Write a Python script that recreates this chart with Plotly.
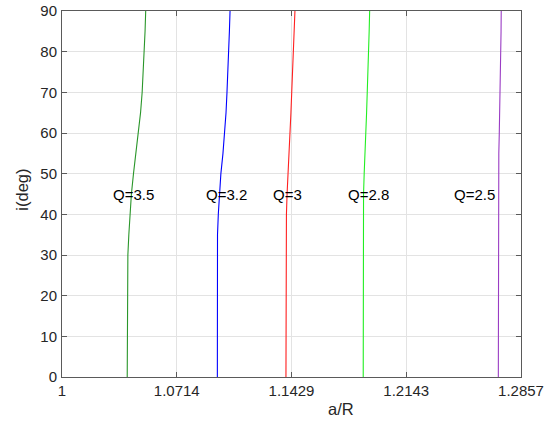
import plotly.graph_objects as go

# ---- data ----
incl_deg = [0, 10, 20, 25, 30, 35, 40, 45, 50, 55, 60, 65, 70, 75, 80, 85, 90]

aR_Q35 = [1.0406, 1.0406, 1.0406, 1.0407, 1.0410, 1.0416, 1.0423, 1.0432, 1.0445,
          1.0461, 1.0476, 1.0489, 1.0499, 1.0506, 1.0512, 1.0517, 1.0521]
aR_Q32 = [1.0967, 1.0967, 1.0967, 1.0967, 1.0967, 1.0968, 1.0973, 1.0980, 1.0989,
          1.1002, 1.1013, 1.1021, 1.1027, 1.1033, 1.1038, 1.1042, 1.1046]
aR_Q30 = [1.1394, 1.1394, 1.1394, 1.1394, 1.1394, 1.1395, 1.1397, 1.1401, 1.1408,
          1.1414, 1.1419, 1.1425, 1.1430, 1.1435, 1.1440, 1.1445, 1.1450]
aR_Q28 = [1.1875, 1.1875, 1.1875, 1.1875, 1.1875, 1.1875, 1.1875, 1.1877, 1.1881,
          1.1887, 1.1892, 1.1896, 1.1900, 1.1905, 1.1909, 1.1912, 1.1915]
aR_Q25 = [1.2716, 1.2716, 1.2716, 1.2716, 1.2716, 1.2716, 1.2716, 1.2716, 1.2716,
          1.2719, 1.2722, 1.2725, 1.2727, 1.2729, 1.2731, 1.2733, 1.2734]

series_names = ["Q=3.5", "Q=3.2", "Q=3", "Q=2.8", "Q=2.5"]
series_values = [aR_Q35, aR_Q32, aR_Q30, aR_Q28, aR_Q25]

x_tick_vals = [1.0, 1 + 1/14, 1 + 2/14, 1 + 3/14, 1 + 4/14]
x_tick_text = ["1", "1.0714", "1.1429", "1.2143", "1.2857"]
y_tick_vals = [0, 10, 20, 30, 40, 50, 60, 70, 80, 90]

# ---- styling / placement ----
colors = ["#2a962a", "#0000ff", "#ff2020", "#22ee22", "#9a3cc4"]
label_x = [1.0306, 1.0886, 1.1302, 1.1768, 1.2428]
label_y = 45

AXIS_COLOR = "#5a5a5a"
TEXT_COLOR = "#262626"
GRID_COLOR = "#e3e3e3"
FONT = "Arial, Liberation Sans, sans-serif"

fig = go.Figure()
for name, vals, col in zip(series_names, series_values, colors):
    fig.add_trace(go.Scatter(x=vals, y=incl_deg, mode="lines", name=name,
                             line=dict(color=col, width=1.1), showlegend=False))

for name, lx in zip(series_names, label_x):
    fig.add_annotation(x=lx, y=label_y, xref="x", yref="y", text=name,
                       showarrow=False, xanchor="left", yanchor="middle",
                       font=dict(family=FONT, size=15, color="#000000"))

fig.add_annotation(x=0.607, y=-0.088, xref="paper", yref="paper", text="a/R",
                   showarrow=False, xanchor="center", yanchor="middle",
                   font=dict(family=FONT, size=16.5, color=TEXT_COLOR))
fig.add_annotation(x=-0.087, y=0.512, xref="paper", yref="paper", text="i(deg)",
                   showarrow=False, xanchor="center", yanchor="middle", textangle=-90,
                   font=dict(family=FONT, size=16.5, color=TEXT_COLOR))

axis_common = dict(showline=True, linecolor=AXIS_COLOR, linewidth=1, mirror="ticks",
                   ticks="inside", ticklen=5, tickcolor=AXIS_COLOR, tickwidth=1,
                   showgrid=True, gridcolor=GRID_COLOR, gridwidth=1, zeroline=False,
                   automargin=False, ticklabeloverflow="allow",
                   tickfont=dict(family=FONT, size=15, color=TEXT_COLOR))

fig.update_xaxes(range=[1.0, 1 + 4/14], tickmode="array", tickvals=x_tick_vals,
                 ticktext=x_tick_text, ticklabelstandoff=0, **axis_common)
fig.update_yaxes(range=[0, 90], tickmode="array", tickvals=y_tick_vals,
                 ticklabelstandoff=1, **axis_common)

fig.update_layout(width=550, height=423, margin=dict(l=62, r=28.5, t=11, b=45.5),
                  paper_bgcolor="white", plot_bgcolor="white",
                  font=dict(family=FONT))

# remove the default 8 px page margin so the figure fills the window exactly
fig.write_html("out.html", config={"displayModeBar": False},
               post_script="document.body.style.margin='0';document.body.style.overflow='hidden';")
